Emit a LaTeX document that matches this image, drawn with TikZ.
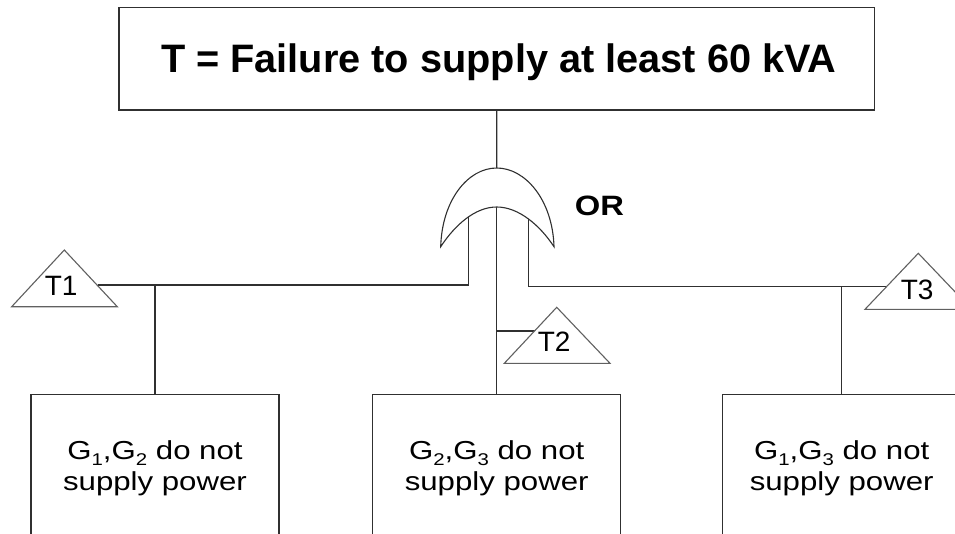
\documentclass[tikz,border=0pt]{standalone}
\usepackage{fontspec}
\setmainfont{Liberation Sans}
\definecolor{linegray}{HTML}{303030}
\definecolor{trigray}{HTML}{606060}
\newcommand\gsub[1]{\raisebox{-6pt}{\fontsize{17}{17}\selectfont #1}}
\begin{document}
\begin{tikzpicture}[x=1pt,y=-1pt,
  every node/.style={inner sep=0pt, outer sep=0pt},
  boxstyle/.style={draw=linegray, line width=1.3pt, anchor=north, minimum height=220pt},
  conn/.style={draw=linegray, line width=1.2pt},
  tri/.style={draw=trigray, line width=1.1pt, fill=white, line join=miter},
  lbl/.style={anchor=base, font=\fontsize{28}{28}\selectfont},
  boxtext/.style={anchor=base},
]
\useasboundingbox (0,0) rectangle (955,533);
\clip (0,0) rectangle (955,533);

% top event box
\node[draw=linegray, line width=1.3pt, minimum width=755.3pt, minimum height=102.7pt] (top) at (496.65,58.65) {};
\node[anchor=base, font=\bfseries\fontsize{39.7}{40}\selectfont] (title) at (498.8,72.7) {T = Failure to supply at least 60 kVA};

% bottom boxes
\node[boxstyle, minimum width=248pt] (b1) at (155,394.3) {};
\node[boxstyle, minimum width=248pt] (b2) at (496.7,394.3) {};
\node[boxstyle, minimum width=238.8pt] (b3) at (841.7,394.3) {};

\node[boxtext] (b1a) at (155,459) {\scalebox{1.2}[1]{\fontsize{26}{26}\selectfont G\gsub{1},G\gsub{2} do not}};
\node[boxtext] (b1b) at (155,490) {\scalebox{1.2}[1]{\fontsize{26}{26}\selectfont supply power}};
\node[boxtext] (b2a) at (496.7,459) {\scalebox{1.2}[1]{\fontsize{26}{26}\selectfont G\gsub{2},G\gsub{3} do not}};
\node[boxtext] (b2b) at (496.7,490) {\scalebox{1.2}[1]{\fontsize{26}{26}\selectfont supply power}};
\node[boxtext] (b3a) at (841.7,459) {\scalebox{1.2}[1]{\fontsize{26}{26}\selectfont G\gsub{1},G\gsub{3} do not}};
\node[boxtext] (b3b) at (841.7,490) {\scalebox{1.2}[1]{\fontsize{26}{26}\selectfont supply power}};

% gate coordinates
\coordinate (gtop) at (496.7,168);
\coordinate (gin) at (496.7,207);
\coordinate (gl) at (440.7,246.7);
\coordinate (gr) at (554,246.7);
\coordinate (gL) at (468.3,205);
\coordinate (gR) at (528.3,205);

% transfer triangle edge points
\coordinate (t1e) at (97.9,285);
\coordinate (t2e) at (534.5,331);
\coordinate (t3e) at (886.5,286.7);

% connectors
\draw[conn] (top.south) -- (gtop);
\draw[conn] (gin) -- (b2.north);
\draw[conn] (gL) |- (t1e);
\draw[conn] (b1.north |- t1e) -- (b1.north);
\draw[conn] (gR) |- (t3e);
\draw[conn] (b3.north |- t3e) -- (b3.north);
\draw[conn] (b2.north |- t2e) -- (t2e);

% OR gate
\filldraw[fill=white, draw=linegray, line width=1.1pt]
  (gl) .. controls (442,200) and (468,168) .. (gtop)
  .. controls (525.4,168) and (552.6,200) .. (gr)
  .. controls (539.7,225) and (518.4,207) .. (gin)
  .. controls (475,207) and (455,225) .. (gl) -- cycle;
\node[anchor=base] (orlbl) at (599.5,215) {\scalebox{1.17}[1]{\bfseries\fontsize{28}{28}\selectfont OR}};

% transfer triangles
\draw[tri] (64.3,250) -- (117.3,306.7) -- (11.7,306.7) -- cycle;
\draw[tri] (556.7,307.3) -- (610,363.3) -- (504.3,363.3) -- cycle;
\draw[tri] (918.3,253.3) -- (971.7,309.3) -- (865,309.3) -- cycle;
\node[lbl] (t1) at (61.2,295) {T1};
\node[lbl] (t2) at (554.2,351.7) {T2};
\node[lbl] (t3) at (917.2,299) {T3};
\end{tikzpicture}
\end{document}
